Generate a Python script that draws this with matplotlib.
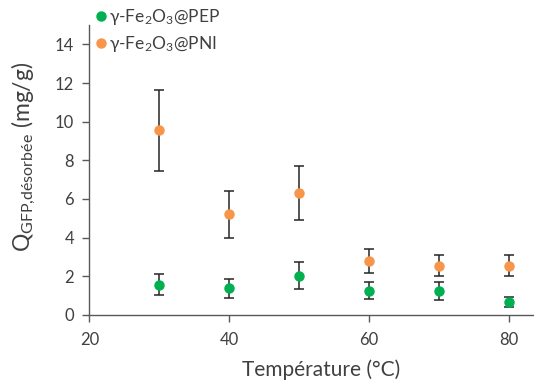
import matplotlib
matplotlib.use("Agg")
import matplotlib.pyplot as plt
from matplotlib.lines import Line2D

plt.rcParams['font.family'] = ['Lato', 'DejaVu Sans']
plt.rcParams['mathtext.fontset'] = 'custom'
plt.rcParams['mathtext.rm'] = 'Lato'
plt.rcParams['mathtext.it'] = 'Lato:italic'
plt.rcParams['mathtext.bf'] = 'Lato:bold'

temperature = [30, 40, 50, 60, 70, 80]
pep_values = [1.57, 1.38, 2.03, 1.25, 1.23, 0.66]
pep_errors = [0.55, 0.48, 0.70, 0.45, 0.47, 0.25]
pni_values = [9.55, 5.20, 6.30, 2.80, 2.55, 2.55]
pni_errors = [2.10, 1.22, 1.40, 0.62, 0.55, 0.55]
series_labels = [r'γ-Fe$_2$O$_3$@PEP', r'γ-Fe$_2$O$_3$@PNI']
xticks = [20, 40, 60, 80]
yticks = [0, 2, 4, 6, 8, 10, 12, 14]

green = '#00B050'
orange = '#F7964A'
gray = '#595959'
textc = '#404040'

fig = plt.figure(figsize=(5.34, 3.85), dpi=100)
ax = fig.add_axes([0.1676, 0.182, 0.8324, 0.753])

for vals, errs, col in [(pep_values, pep_errors, green), (pni_values, pni_errors, orange)]:
    ax.errorbar(temperature, vals, yerr=errs, fmt='o', color=col, mfc=col, mec=col,
                ecolor='#262626', elinewidth=1.1, capsize=3.5, capthick=1.1,
                markersize=6.5, zorder=3)

ax.set_xlim(20, 83.6)
ax.set_ylim(0, 15)
ax.set_xticks(xticks)
ax.set_yticks(yticks)
for s in ['top', 'right']:
    ax.spines[s].set_visible(False)
for s in ['left', 'bottom']:
    ax.spines[s].set_color(gray)
    ax.spines[s].set_linewidth(1.0)
ax.tick_params(axis='both', direction='out', length=5, width=1.0, color=gray,
               labelcolor=textc, labelsize=12)
ax.tick_params(axis='x', pad=7)
ax.tick_params(axis='y', pad=6)

ax.set_xlabel('Température (°C)', fontsize=15, color=textc, labelpad=9)
ax.xaxis.set_label_coords(0.52, -0.155)
ax.set_ylabel(r'Q$_{\mathregular{GFP{,}désorbée}}$ (mg/g)', fontsize=16.5,
              color=textc, labelpad=10)
ax.yaxis.set_label_coords(-0.115, 0.545)

handles = [Line2D([], [], ls='none', marker='o', color=green, markersize=6.5),
           Line2D([], [], ls='none', marker='o', color=orange, markersize=6.5)]
leg = ax.legend(handles, series_labels, loc='upper left',
                bbox_to_anchor=(-0.01, 1.085), frameon=False,
                fontsize=12.5, handletextpad=0.0, handlelength=1.0,
                borderaxespad=0, labelspacing=0.4, labelcolor=textc)

fig.savefig('out.png', dpi=100)
